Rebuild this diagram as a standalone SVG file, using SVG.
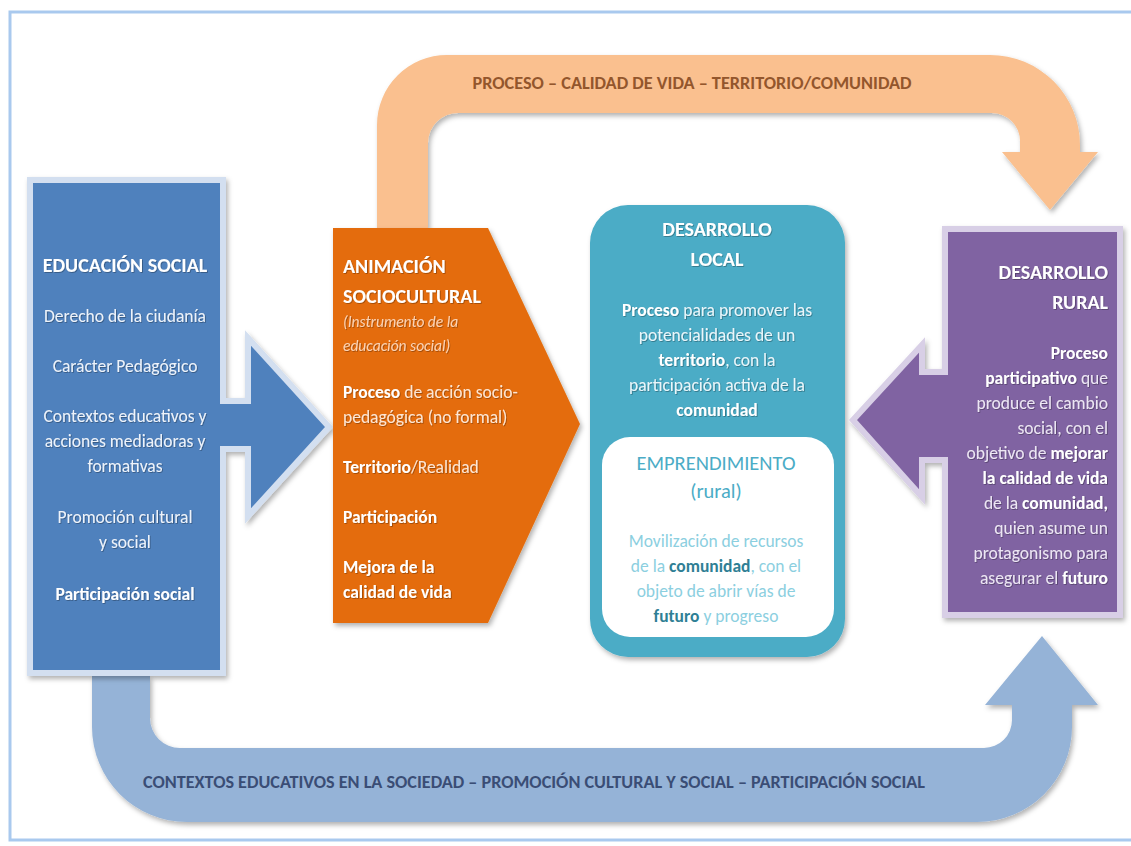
<svg xmlns="http://www.w3.org/2000/svg" width="1131" height="846" viewBox="0 0 1131 846">
<style>
text{font-family:Carlito,Lato,"Liberation Sans",sans-serif;font-size:17.5px}
.h{font-weight:bold;font-size:20px}
.w{fill:#ffffff}
.b{font-weight:bold}
.c{text-anchor:middle}
.r{text-anchor:end}
.eb{fill:#eef3fa}
.ob{fill:#fde6d4}
.pb{fill:#ece6f3}
.it{font-style:italic;font-size:15.5px;fill:#fbd3b5}
.em{fill:#4bacc6;font-size:20.5px}
.lt{fill:#8ccfdf}
.dk{fill:#2f7f95;font-weight:bold}
.lbl{font-weight:bold;font-size:17px}
</style>
<defs>
<filter id="sh" x="-10%" y="-10%" width="120%" height="120%">
<feDropShadow dx="2" dy="3" stdDeviation="2.5" flood-color="#000" flood-opacity="0.3"/>
</filter>
<filter id="ts" x="-5%" y="-20%" width="110%" height="140%">
<feDropShadow dx="0.8" dy="0.8" stdDeviation="0.7" flood-color="#000" flood-opacity="0.35"/>
</filter>
</defs>
<rect x="0" y="0" width="1131" height="846" fill="#ffffff"/>
<rect x="10" y="12" width="1130" height="828" fill="#ffffff" stroke="#a9c9ee" stroke-width="3"/>

<g id="connectors">
<path id="top-arrow" d="M377,228 V125 A70,70 0 0 1 447,55 H990 A90,90 0 0 1 1080,145 V152 H1098 L1050,210 L1002,152 H1020 V141 A28,28 0 0 0 992,113 H458 A30,30 0 0 0 428,143 V228 Z" fill="#fac08f" filter="url(#sh)"/>
<text x="692" y="89" class="lbl c" fill="#93562c" textLength="439" lengthAdjust="spacingAndGlyphs">PROCESO – CALIDAD DE VIDA – TERRITORIO/COMUNIDAD</text>
<path id="bottom-arrow" d="M92,676 V727 A95,95 0 0 0 187,822 H977 A95,95 0 0 0 1072,727 V705 H1098 L1042,636 L985,705 H1012 V720 A28,28 0 0 1 984,748 H180 A30,30 0 0 1 150,718 V676 Z" fill="#95b3d7" filter="url(#sh)"/>
<text x="534" y="788" class="lbl c" fill="#3a4d75" textLength="782" lengthAdjust="spacingAndGlyphs">CONTEXTOS EDUCATIVOS EN LA SOCIEDAD – PROMOCIÓN CULTURAL Y SOCIAL – PARTICIPACIÓN SOCIAL</text>
</g>

<g id="educacion-social">
<path d="M30,180 H223 V401 H248 V338 L329,427 L248,516 V449 H223 V673 H30 Z" fill="#4f81bd" stroke="#d3dff0" stroke-width="6" stroke-linejoin="miter" filter="url(#sh)"/>
<g filter="url(#ts)">
<text x="125" y="272" class="h w c">EDUCACIÓN SOCIAL</text>
<text x="125" y="322" class="eb c">Derecho de la ciudanía</text>
<text x="125" y="372" class="eb c">Carácter Pedagógico</text>
<text x="125" y="422" class="eb c">Contextos educativos y</text>
<text x="125" y="447" class="eb c">acciones mediadoras y</text>
<text x="125" y="472" class="eb c">formativas</text>
<text x="125" y="523" class="eb c">Promoción cultural</text>
<text x="125" y="548" class="eb c">y social</text>
<text x="125" y="600" class="w b c">Participación social</text>
</g>
</g>

<g id="animacion-sociocultural">
<path d="M333,228 H488 L580,424 L488,623 H333 Z" fill="#e46c0a" filter="url(#sh)"/>
<g filter="url(#ts)">
<text x="343" y="273" class="h w">ANIMACIÓN</text>
<text x="343" y="303" class="h w">SOCIOCULTURAL</text>
<text x="343" y="327" class="it">(Instrumento de la</text>
<text x="343" y="351" class="it">educación social)</text>
<text x="343" y="398" class="ob"><tspan class="w b">Proceso</tspan> de acción socio-</text>
<text x="343" y="423" class="ob">pedagógica (no formal)</text>
<text x="343" y="473" class="ob"><tspan class="w b">Territorio</tspan>/Realidad</text>
<text x="343" y="523" class="w b">Participación</text>
<text x="343" y="573" class="w b">Mejora de la</text>
<text x="343" y="598" class="w b">calidad de vida</text>
</g>
</g>

<g id="desarrollo-local">
<rect x="590" y="205" width="255" height="452" rx="38" fill="#4bacc6" filter="url(#sh)"/>
<g filter="url(#ts)">
<text x="717" y="236" class="h w c">DESARROLLO</text>
<text x="717" y="266" class="h w c">LOCAL</text>
<text x="717" y="316" class="c" fill="#eaf6fa"><tspan class="w b">Proceso</tspan> para promover las</text>
<text x="717" y="341" class="c" fill="#eaf6fa">potencialidades de un</text>
<text x="717" y="366" class="c" fill="#eaf6fa"><tspan class="w b">territorio</tspan>, con la</text>
<text x="717" y="391" class="c" fill="#eaf6fa">participación activa de la</text>
<text x="717" y="416" class="w b c">comunidad</text>
</g>
<g id="emprendimiento">
<rect x="602" y="437" width="232" height="200" rx="28" fill="#ffffff"/>
<text x="716" y="470" class="em c">EMPRENDIMIENTO</text>
<text x="716" y="498" class="em c">(rural)</text>
<text x="716" y="547" class="lt c">Movilización de recursos</text>
<text x="716" y="572" class="lt c">de la <tspan class="dk">comunidad</tspan>, con el</text>
<text x="716" y="597" class="lt c">objeto de abrir vías de</text>
<text x="716" y="622" class="lt c"><tspan class="dk">futuro</tspan> y progreso</text>
</g>
</g>

<g id="desarrollo-rural">
<path d="M945,229 H1120 V615 H945 V460 H922 V497 L853,420 L922,345 V372 H945 Z" fill="#8064a2" stroke="#d8cfe6" stroke-width="6" filter="url(#sh)"/>
<g filter="url(#ts)">
<text x="1108" y="279" class="h w r">DESARROLLO</text>
<text x="1108" y="309" class="h w r">RURAL</text>
<text x="1108" y="359" class="w b r">Proceso</text>
<text x="1108" y="384" class="pb r"><tspan class="w b">participativo</tspan> que</text>
<text x="1108" y="409" class="pb r">produce el cambio</text>
<text x="1108" y="434" class="pb r">social, con el</text>
<text x="1108" y="459" class="pb r">objetivo de <tspan class="w b">mejorar</tspan></text>
<text x="1108" y="484" class="w b r">la calidad de vida</text>
<text x="1108" y="509" class="pb r">de la <tspan class="w b">comunidad,</tspan></text>
<text x="1108" y="534" class="pb r">quien asume un</text>
<text x="1108" y="559" class="pb r">protagonismo para</text>
<text x="1108" y="584" class="pb r">asegurar el <tspan class="w b">futuro</tspan></text>
</g>
</g>
</svg>
